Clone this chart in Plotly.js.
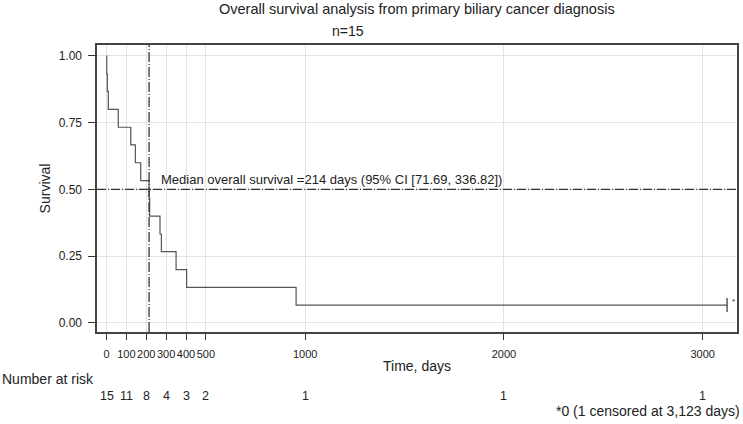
<!DOCTYPE html>
<html>
<head>
<meta charset="utf-8">
<script src="https://cdn.plot.ly/plotly-3.0.1.min.js"></script>
<style>html,body{margin:0;padding:0;background:#fff;}#chart{width:743px;height:424px;}</style>
</head>
<body>
<div id="chart"></div>
<script>
// Kaplan-Meier step curve (days, survival after each step)
const curveDays = [0, 1, 4, 9, 59, 122, 145, 172, 214, 217, 269, 276, 350, 403, 954, 3123];
const curveSurvival = [1.0, 0.933, 0.867, 0.8, 0.733, 0.667, 0.6, 0.533, 0.467, 0.4, 0.333, 0.267, 0.2, 0.133, 0.067, 0.067];
const censorDays = [3123];
const censorSurvival = [0.067];
const medianDays = 214;
const medianSurvival = 0.5;
const xTickVals = [0, 100, 200, 300, 400, 500, 1000, 2000, 3000];
const xTickText = ["0", "100", "200", "300", "400", "500", "1000", "2000", "3000"];
const yTickVals = [0, 0.25, 0.5, 0.75, 1];
const yTickText = ["0.00", "0.25", "0.50", "0.75", "1.00"];
const riskTimes = [0, 100, 200, 300, 400, 500, 1000, 2000, 3000];
const riskCounts = [15, 11, 8, 4, 3, 2, 1, 1, 1];

const FONT = "Liberation Sans, Arial, sans-serif";
const TXT = "#222";

const traces = [
  {
    x: curveDays, y: curveSurvival, type: "scatter", mode: "lines",
    line: {shape: "hv", color: "#555", width: 1.2},
    hoverinfo: "skip", showlegend: false
  },
  {
    x: censorDays, y: censorSurvival, type: "scatter", mode: "markers",
    marker: {symbol: "line-ns", size: 10, line: {color: "#444", width: 1.3}},
    showlegend: false, hoverinfo: "skip"
  }
];

const annotations = [
  {text: "Overall survival analysis from primary biliary cancer diagnosis", xref: "paper", yref: "paper",
   x: 0.5, y: 1, yshift: 36, xanchor: "center", yanchor: "middle", showarrow: false,
   font: {family: FONT, size: 14.5, color: TXT}},
  {text: "n=15", xref: "x", yref: "paper", x: 1215, y: 1, yshift: 14, xanchor: "center", yanchor: "middle",
   showarrow: false, font: {family: FONT, size: 14, color: TXT}},
  {text: "Median overall survival =214 days (95% CI [71.69, 336.82])", xref: "x", yref: "y",
   x: medianDays, xshift: 10, y: medianSurvival, yshift: 10, xanchor: "left", yanchor: "middle", showarrow: false,
   font: {family: FONT, size: 13, color: TXT}},
  {text: "*", xref: "x", yref: "y", x: censorDays[0], y: censorSurvival[0], xshift: 3, yshift: 4,
   xanchor: "left", yanchor: "middle", showarrow: false, font: {family: FONT, size: 8, color: TXT}},
  {text: "Number at risk", xref: "paper", yref: "paper", x: 0, xshift: -97, y: 0, yshift: -47,
   xanchor: "left", yanchor: "middle", showarrow: false, font: {family: FONT, size: 14, color: TXT}},
  {text: "*0 (1 censored at 3,123 days)", xref: "paper", yref: "paper", x: 1, xshift: 5, y: 0, yshift: -79,
   xanchor: "right", yanchor: "middle", showarrow: false, font: {family: FONT, size: 14, color: TXT}}
];
riskTimes.forEach((t, i) => {
  annotations.push({text: String(riskCounts[i]), xref: "x", yref: "paper", x: t, y: 0, yshift: -64,
    xanchor: "center", yanchor: "middle", showarrow: false, font: {family: FONT, size: 12.5, color: TXT}});
});

const layout = {
  width: 743, height: 424,
  margin: {l: 97, r: 6, t: 45, b: 92},
  paper_bgcolor: "#fff", plot_bgcolor: "#fff",
  showlegend: false,
  font: {family: FONT, size: 12, color: TXT},
  xaxis: {
    range: [-48, 3173], tickmode: "array", tickvals: xTickVals, ticktext: xTickText, tickangle: 0,
    ticks: "outside", ticklen: 6, tickcolor: "#333", tickwidth: 1, ticklabelstandoff: 5,
    showgrid: true, gridcolor: "#e3e3e3", gridwidth: 1, zeroline: false,
    showline: true, linecolor: "#444", linewidth: 1.6, mirror: true,
    tickfont: {family: FONT, size: 11, color: TXT},
    title: {text: "Time, days", font: {family: FONT, size: 14, color: TXT}, standoff: 2}
  },
  yaxis: {
    range: [-0.034, 1.041], tickmode: "array", tickvals: yTickVals, ticktext: yTickText,
    ticks: "outside", ticklen: 7, tickcolor: "#333", tickwidth: 1, ticklabelstandoff: 4,
    showgrid: true, gridcolor: "#e3e3e3", gridwidth: 1, zeroline: false,
    showline: true, linecolor: "#444", linewidth: 1.6, mirror: true,
    tickfont: {family: FONT, size: 12, color: TXT},
    title: {text: "Survival", font: {family: FONT, size: 14, color: TXT}, standoff: 5}
  },
  shapes: [
    {type: "line", xref: "paper", yref: "y", x0: 0, x1: 1, y0: medianSurvival, y1: medianSurvival,
     line: {color: "#333", width: 1.3, dash: "9px,2px,1px,2px"}},
    {type: "line", xref: "x", yref: "paper", x0: medianDays, x1: medianDays, y0: 0, y1: 1,
     line: {color: "#333", width: 1.3, dash: "10px,2px,1px,2px"}}
  ],
  annotations: annotations
};

Plotly.newPlot("chart", traces, layout, {staticPlot: true, displayModeBar: false});
</script>
</body>
</html>
